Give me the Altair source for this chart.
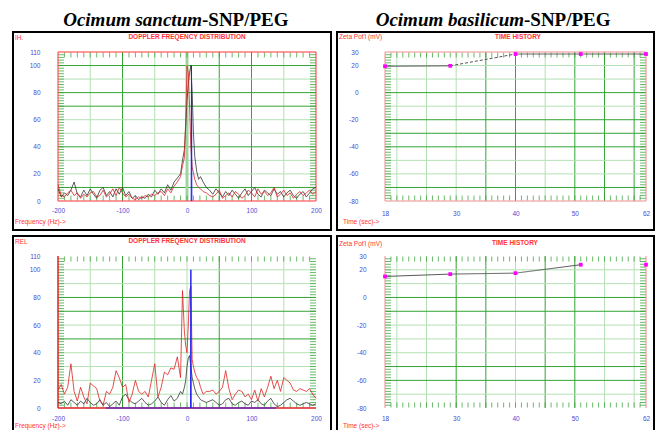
import altair as alt
import pandas as pd

# ---------------- data ----------------
FREQ_LEFT = [-200, -195, -190, -185, -180, -175, -170, -165, -160, -155,
             -150, -145, -140, -135, -130, -125, -120, -115, -110, -105,
             -100, -95, -90, -85, -80, -75, -70, -65, -60, -55,
             -50, -45, -40, -35, -30, -25, -20, -15]
FREQ_MID = [-10, -7, -4, -2, 0, 2, 4, 6, 8, 10, 12, 15, 18, 21, 25]
FREQ_RIGHT = [30, 35, 40, 45, 50, 55, 60, 65, 70, 75,
              80, 85, 90, 95, 100, 105, 110, 115, 120, 125,
              130, 135, 140, 145, 150, 155, 160, 165, 170, 175,
              180, 185, 190, 195, 200]
FREQ = FREQ_LEFT + FREQ_MID + FREQ_RIGHT

SANCTUM_BLACK = [9, 3, 6, 4, 8, 14, 5, 3, 8, 4, 9, 5, 2, 8, 10, 4, 7, 3, 9, 5,
                 10, 4, 7, 2, 4, 1, 3, 2, 5, 3, 8, 5, 9, 6, 12, 8, 14, 17,
                 20, 30, 38, 55, 75, 85, 95, 100, 80, 50, 33, 22, 16, 18, 14,
                 10, 8, 5, 9, 6, 3, 7, 4, 8, 5, 2, 6, 9, 4, 7, 10, 5, 3, 8, 6,
                 4, 9, 5, 7, 3, 6, 8, 4, 2, 5, 7, 3, 6, 9, 10]
SANCTUM_RED = [12, 4, 3, 6, 8, 4, 6, 2, 5, 3, 6, 7, 3, 4, 8, 3, 5, 9, 4, 10,
               6, 3, 5, 2, 1, 3, 2, 4, 3, 5, 4, 6, 7, 4, 9, 6, 11, 14,
               18, 26, 32, 60, 100, 95, 70, 40, 25, 21, 16, 12, 10, 9, 7,
               6, 4, 3, 5, 8, 2, 4, 6, 3, 7, 5, 2, 4, 8, 6, 3, 9, 5, 7, 4,
               6, 10, 3, 5, 8, 4, 6, 2, 5, 7, 4, 6, 8, 5, 7]
SANCTUM_BLUE_F = [6.5, 7, 7.5]
SANCTUM_BLUE_V = [0, 100, 0]

BASIL_BLACK = [4, 3, 5, 2, 6, 4, 2, 5, 3, 7, 4, 2, 3, 6, 2, 4, 1, 3, 5, 2,
               8, 10, 6, 4, 3, 5, 7, 4, 2, 3, 5, 8, 4, 2, 6, 9, 5, 7,
               12, 10, 15, 20, 30, 36, 38, 30, 22, 18, 14, 10, 8, 6, 5,
               4, 5, 6, 4, 2, 3, 6, 7, 3, 2, 4, 5, 3, 2, 5, 4, 6, 3, 2, 5,
               7, 3, 1, 2, 4, 6, 7, 5, 3, 2, 3, 4, 3, 2, 3]
BASIL_RED = [13, 17, 10, 15, 32, 12, 5, 15, 8, 3, 18, 16, 14, 5, 2, 12, 10, 15, 27, 22,
             15, 17, 4, 10, 20, 12, 10, 12, 8, 20, 32, 8, 15, 26, 24, 29, 28, 37,
             22, 85, 55, 45, 40, 60, 85, 88, 35, 30, 26, 22, 20, 15, 10,
             12, 12, 13, 10, 12, 15, 27, 14, 6, 10, 13, 12, 8, 10, 6, 13, 5, 14, 8, 15,
             23, 14, 20, 12, 22, 20, 18, 13, 12, 14, 13, 12, 14, 10, 7]
BASIL_BLUE_F = [-126, 5.5, 6, 6.5, 138]
BASIL_BLUE_V = [0, 0, 100, 0, 0]

TIME_SEC = [18, 29, 40, 51, 62]
BASIL_TOP_ZETA = [19.5, 19.8, 28.5, 28.5, 28.5]
BASIL_TOP_SEG = ["solid", "dash", "solid", "solid"]
BASIL_BOT_ZETA = [15.2, 16.9, 17.6, 23.7, 23.7]
BASIL_BOT_SEG = ["solid", "solid", "solid", "none"]

FREQ_LABELS = [-200, -100, 0, 100, 200]
FREQ_GRID = [-150, -100, -50, 0, 50, 100, 150]
REL_LABELS = [0, 20, 40, 60, 80, 100, 110]
REL_GRID = [10, 20, 30, 40, 50, 60, 70, 80, 90, 100]
TIME_LABELS = [18, 30, 40, 50, 62]
TIME_GRID = [20, 25, 30, 35, 40, 45, 50, 55, 60]
ZETA_LABELS = [30, 20, 0, -20, -40, -60, -80]
ZETA_GRID = [20, 10, 0, -10, -20, -30, -40, -50, -60, -70]

# ---------------- style ----------------
GREEN_D = "#33a533"
GREEN_L = "#b4e0b4"
GREEN_T = "#2c9c2c"
RED = "#ff3333"
PINK = "#f08c8c"
BLUE_T = "#4a4ad6"
FONT = "Liberation Sans"


def axis(labels, pad):
    return alt.Axis(
        values=labels,
        labelExpr="'' + datum.value",
        grid=False, ticks=False, domain=False, labelColor=BLUE_T, labelFont=FONT,
        labelFontSize=6.5, labelPadding=pad, labelFlush=False, labelOverlap=False,
        title=None,
    )


def text(t, x, y, size=6.5, color=RED, bold=False, align="left", font=FONT,
         italic=False, baseline="middle"):
    return alt.Chart(pd.DataFrame({"label": [t]})).mark_text(
        align=align, baseline=baseline, font=font, fontSize=size, color=color,
        fontWeight="bold" if bold else "normal",
        fontStyle="italic" if italic else "normal",
    ).encode(text="label:N", x=alt.value(x), y=alt.value(y))


def box(x1, x2, y1, y2):
    return alt.Chart(pd.DataFrame({"a": [0]})).mark_rect(
        fillOpacity=0, stroke="black", strokeWidth=2
    ).encode(x=alt.value(x1), x2=alt.value(x2), y=alt.value(y1), y2=alt.value(y2))


def frame(w, h, sides, color, width=1):
    out = []
    d = pd.DataFrame({"a": [0]})
    for s in sides:
        if s == "l":
            enc = dict(x=alt.value(0), y=alt.value(0), y2=alt.value(h))
        elif s == "r":
            enc = dict(x=alt.value(w), y=alt.value(0), y2=alt.value(h))
        elif s == "t":
            enc = dict(y=alt.value(0), x=alt.value(0), x2=alt.value(w))
        else:
            enc = dict(y=alt.value(h), x=alt.value(0), x2=alt.value(w))
        out.append(alt.Chart(d).mark_rule(color=color, strokeWidth=width).encode(**enc))
    return out


def grid_layers(X, Y, xgrid, ygrid, dark_x, dark_y, wide_x):
    out = []
    for vals, enc in ((xgrid, X), (ygrid, Y)):
        dark = dark_x if enc is X else dark_y
        light_v = [v for v in vals if v not in dark and v != wide_x]
        dark_v = [v for v in vals if v in dark and v != wide_x]
        ch = "x" if enc is X else "y"
        if light_v:
            out.append(alt.Chart(pd.DataFrame({"g": light_v})).mark_rule(color=GREEN_L, strokeWidth=1)
                       .encode(**{ch: enc("g")}))
        if dark_v:
            out.append(alt.Chart(pd.DataFrame({"g": dark_v})).mark_rule(color=GREEN_D, strokeWidth=1)
                       .encode(**{ch: enc("g")}))
    if wide_x is not None:
        out.append(alt.Chart(pd.DataFrame({"g": [wide_x]})).mark_rule(color="#9ed59e", strokeWidth=3)
                   .encode(x=X("g")))
    return out


def edge_ticks(w, h, X, Y, xt, yt):
    dy = pd.DataFrame({"t": yt})
    dx = pd.DataFrame({"t": xt})
    lt = alt.Chart(dy).mark_tick(color=GREEN_T, thickness=1, size=6).encode(y=Y("t"), x=alt.value(3))
    rt = alt.Chart(dy).mark_tick(color=GREEN_T, thickness=1, size=6).encode(y=Y("t"), x=alt.value(w - 3))
    tt = alt.Chart(dx).mark_tick(color=GREEN_T, thickness=1, size=5).encode(x=X("t"), y=alt.value(3))
    bt = alt.Chart(dx).mark_tick(color=GREEN_T, thickness=1, size=5).encode(x=X("t"), y=alt.value(h - 3))
    return [lt, rt, tt, bt]


def freq_panel(black, red, bf, bv, w, h, dark_x, dark_y, wide_x, ypad, xpad,
               corner, bx, sides, extra):
    xsc = alt.Scale(domain=[-200, 200], nice=False, zero=False)
    ysc = alt.Scale(domain=[0, 110], nice=False, zero=False)
    xax = axis(FREQ_LABELS, xpad)
    yax = axis(REL_LABELS, ypad)

    def X(f):
        return alt.X(f + ":Q", scale=xsc, axis=xax, title=None)

    def Y(f):
        return alt.Y(f + ":Q", scale=ysc, axis=yax, title=None)

    df = pd.DataFrame({"f": FREQ * 2, "v": black + red,
                       "s": ["black"] * len(FREQ) + ["red"] * len(FREQ)})
    lines = alt.Chart(df).mark_line(strokeWidth=0.8).encode(
        x=X("f"), y=Y("v"),
        color=alt.Color("s:N", scale=alt.Scale(domain=["black", "red"], range=["#333333", "#dd2222"]),
                        legend=None),
        detail="s:N",
    )
    blue = alt.Chart(pd.DataFrame({"f": bf, "v": bv})).mark_line(color="#1f1ff0", strokeWidth=1).encode(
        x=X("f"), y=Y("v"))
    yt = [v for v in range(2, 110, 2)]
    xt = [v for v in range(-190, 200, 10)]
    layers = grid_layers(X, Y, FREQ_GRID, REL_GRID, dark_x, dark_y, wide_x)
    layers += edge_ticks(w, h, X, Y, xt, yt) + frame(w, h, sides[0], sides[1], sides[2])
    layers += [lines, blue]
    layers += [box(*bx),
               text(corner, -43, -14),
               text("DOPPLER FREQENCY DISTRIBUTION", 129, -15, bold=True, align="center"),
               text("Frequency (Hz)->", -43, min(bx[3] - 8, 170))]
    layers += extra
    return alt.layer(*layers).properties(width=w, height=h)


def seg_table(times, zeta, styles):
    rows = []
    for i, st in enumerate(styles):
        if st == "none":
            continue
        for j in (i, i + 1):
            rows.append({"t": times[j], "z": zeta[j], "seg": i, "style": st})
    return pd.DataFrame(rows)


def time_panel(zeta, styles, w, h, dark_x, dark_y, wide_x, ypad, xpad, bx, sides, title_x, title_y,
               zeta_y, extra):
    xsc = alt.Scale(domain=[18, 62], nice=False, zero=False)
    ysc = alt.Scale(domain=[-80, 30], nice=False, zero=False)
    xax = axis(TIME_LABELS, xpad)
    yax = axis(ZETA_LABELS, ypad)

    def X(f):
        return alt.X(f + ":Q", scale=xsc, axis=xax, title=None)

    def Y(f):
        return alt.Y(f + ":Q", scale=ysc, axis=yax, title=None)

    seg = seg_table(TIME_SEC, zeta, styles)
    line = alt.Chart(seg).mark_line(color="#555555", strokeWidth=1).encode(
        x=X("t"), y=Y("z"),
        detail="seg:N",
        strokeDash=alt.StrokeDash("style:N", scale=alt.Scale(domain=["solid", "dash"], range=[[1, 0], [3, 2]]),
                                  legend=None),
    )
    pts = alt.Chart(pd.DataFrame({"t": TIME_SEC, "z": zeta})).mark_square(
        size=14, color="#ff00ff", opacity=1).encode(x=X("t"), y=Y("z"))
    yt = [v for v in range(-78, 30, 2)]
    xt = [v for v in range(19, 62, 1)]
    layers = grid_layers(X, Y, TIME_GRID, ZETA_GRID, dark_x, dark_y, wide_x)
    layers += edge_ticks(w, h, X, Y, xt, yt) + frame(w, h, sides[0], sides[1], sides[2])
    layers += [line, pts]
    layers += [box(*bx),
               text("Zeta Pot'l (mV)", -46, zeta_y),
               text("TIME HISTORY", title_x, title_y, bold=True, align="center"),
               text("Time (sec)->", -42, min(bx[3] - 6, 170))]
    layers += extra
    return alt.layer(*layers).properties(width=w, height=h)


corner = alt.Chart(pd.DataFrame({"a": [0]})).mark_rect(color="white", opacity=0).encode(
    x=alt.value(-50), x2=alt.value(-49), y=alt.value(-44), y2=alt.value(-43))

tl_titles = [
    text("Ocimum sanctum", 144, -26, size=19, color="black", bold=True, italic=True, align="right",
         font="Liberation Serif", baseline="alphabetic"),
    text("-SNP/PEG", 144, -26, size=19, color="black", bold=True, align="left",
         font="Liberation Serif", baseline="alphabetic"),
    corner,
]
tr_titles = [
    text("Ocimum basilicum", 139, -26, size=19, color="black", bold=True, italic=True, align="right",
         font="Liberation Serif", baseline="alphabetic"),
    text("-SNP/PEG", 139, -26, size=19, color="black", bold=True, align="left",
         font="Liberation Serif", baseline="alphabetic"),
]

tl = freq_panel(SANCTUM_BLACK, SANCTUM_RED, SANCTUM_BLUE_F, SANCTUM_BLUE_V, 258, 149,
                [50, -100, 100], [70, 40, 100, 80, 10], 0, 18, 6, "IH.", (-45, 273, -20, 178),
                ("tblr", RED, 1), tl_titles)
bl = freq_panel(BASIL_BLACK, BASIL_RED, BASIL_BLUE_F, BASIL_BLUE_V, 258, 152,
                [-100, 50], [80, 70, 50], None, 18, 7, "REL", (-45, 273, -20, 190),
                ("lb", "#e02020", 1.5), [])
tr = time_panel(BASIL_TOP_ZETA, BASIL_TOP_SEG, 261, 149,
                [40, 50, 55, 60, 35], [0, -20, -30, -70, -40], None, 27, 9, (-48, 269, -20, 178),
                ("tblr", PINK, 1), 133, -15, -15, tr_titles)
br = time_panel(BASIL_BOT_ZETA, BASIL_BOT_SEG, 261, 152,
                [30, 35, 45, 50], [0, -10, -50, -60], None, 19, 7, (-48, 269, -20, 190),
                ("lr", PINK, 1), 130, -13, -12, [])

chart = alt.concat(tl, tr, bl, br, columns=2, spacing={"row": 55, "column": 69},
                   bounds="flush").properties(padding=0, background="white").configure_view(stroke=None)

chart.save("out.html", embed_options={"renderer": "svg", "actions": False})
